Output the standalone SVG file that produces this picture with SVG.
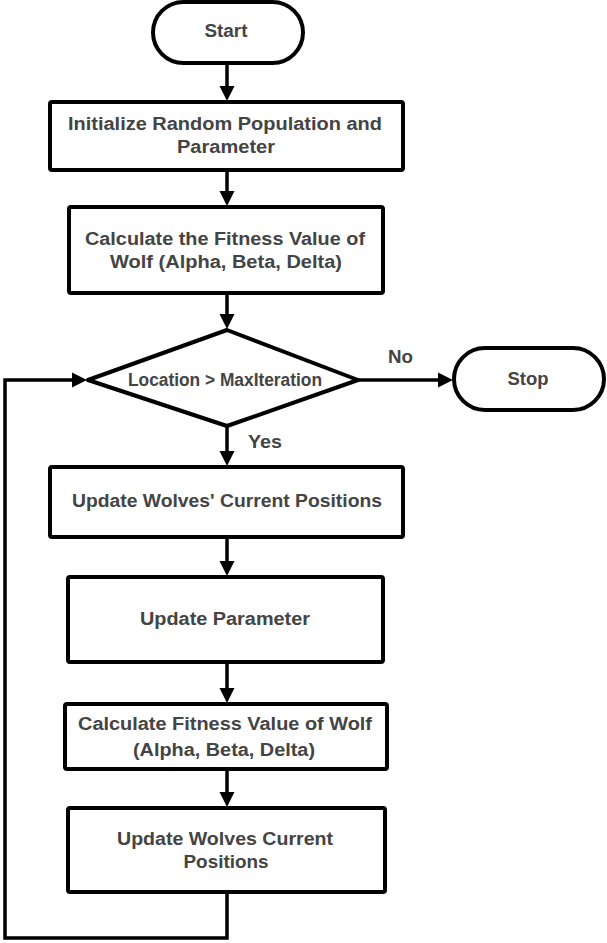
<svg xmlns="http://www.w3.org/2000/svg" width="607" height="943" viewBox="0 0 607 943">
<defs>
<marker id="ah" markerUnits="userSpaceOnUse" markerWidth="16" markerHeight="16" viewBox="0 0 16 16" refX="8" refY="8" orient="auto">
<path d="M0,0.5 L15,8 L0,15.5 Z" fill="#000"/>
</marker>
</defs>
<style>
.box{fill:#fff;stroke:#000;stroke-width:4;stroke-linejoin:round}
.t{font-family:"Liberation Sans",Arial,sans-serif;font-weight:bold;font-size:18px;fill:#444;text-anchor:middle}
.lbl{font-family:"Liberation Sans",Arial,sans-serif;font-weight:bold;font-size:18px;fill:#444}
.c{fill:none;stroke:#000;stroke-width:3.5;stroke-linejoin:miter}
</style>
<rect width="607" height="943" fill="#fff"/>
<g id="connectors">
<path class="c" d="M227,63 V94" marker-end="url(#ah)"/>
<path class="c" d="M227,170 V199" marker-end="url(#ah)"/>
<path class="c" d="M227,293 V322" marker-end="url(#ah)"/>
<path class="c" d="M227,426 V459" marker-end="url(#ah)"/>
<path class="c" d="M227,537 V569" marker-end="url(#ah)"/>
<path class="c" d="M227,662 V696" marker-end="url(#ah)"/>
<path class="c" d="M227,769 V800" marker-end="url(#ah)"/>
<path class="c" d="M358,380 H446" marker-end="url(#ah)"/>
<path class="c" d="M227,892 V938 H5 V380 H80" marker-end="url(#ah)"/>
<text class="lbl" x="388" y="363" textLength="25" lengthAdjust="spacingAndGlyphs">No</text>
<text class="lbl" x="248" y="448" textLength="34" lengthAdjust="spacingAndGlyphs">Yes</text>
</g>
<g id="start">
<rect class="box" x="153" y="2" width="150" height="61" rx="30.5"/>
<text class="t" x="226" y="37" textLength="43" lengthAdjust="spacingAndGlyphs">Start</text>
</g>
<g id="init">
<rect class="box" x="50" y="102" width="353" height="68" rx="2"/>
<text class="t" x="225" y="130" textLength="314" lengthAdjust="spacingAndGlyphs">Initialize Random Population and</text>
<text class="t" x="226" y="153" textLength="98" lengthAdjust="spacingAndGlyphs">Parameter</text>
</g>
<g id="calc1">
<rect class="box" x="69" y="207" width="314" height="86" rx="2"/>
<text class="t" x="225" y="245" textLength="280" lengthAdjust="spacingAndGlyphs">Calculate the Fitness Value of</text>
<text class="t" x="226" y="268" textLength="232" lengthAdjust="spacingAndGlyphs">Wolf (Alpha, Beta, Delta)</text>
</g>
<g id="decision">
<path class="box" d="M227,330 L358,380 L227,426 L88,380 Z"/>
<text class="t" x="225" y="386" font-size="17" textLength="194" lengthAdjust="spacingAndGlyphs">Location &gt; MaxIteration</text>
</g>
<g id="stop">
<rect class="box" x="454" y="348" width="150" height="62" rx="31"/>
<text class="t" x="528" y="385" textLength="41" lengthAdjust="spacingAndGlyphs">Stop</text>
</g>
<g id="update1">
<rect class="box" x="50" y="467" width="353" height="70" rx="2"/>
<text class="t" x="227" y="507" textLength="310" lengthAdjust="spacingAndGlyphs">Update Wolves' Current Positions</text>
</g>
<g id="param">
<rect class="box" x="68" y="577" width="315" height="85" rx="2"/>
<text class="t" x="225" y="625" textLength="170" lengthAdjust="spacingAndGlyphs">Update Parameter</text>
</g>
<g id="calc2">
<rect class="box" x="65" y="704" width="322" height="65" rx="2"/>
<text class="t" x="225" y="730" textLength="294" lengthAdjust="spacingAndGlyphs">Calculate Fitness Value of Wolf</text>
<text class="t" x="224" y="756" textLength="182" lengthAdjust="spacingAndGlyphs">(Alpha, Beta, Delta)</text>
</g>
<g id="update2">
<rect class="box" x="68" y="808" width="317" height="84" rx="2"/>
<text class="t" x="225" y="845" textLength="216" lengthAdjust="spacingAndGlyphs">Update Wolves Current</text>
<text class="t" x="226" y="868" textLength="85" lengthAdjust="spacingAndGlyphs">Positions</text>
</g>
</svg>
